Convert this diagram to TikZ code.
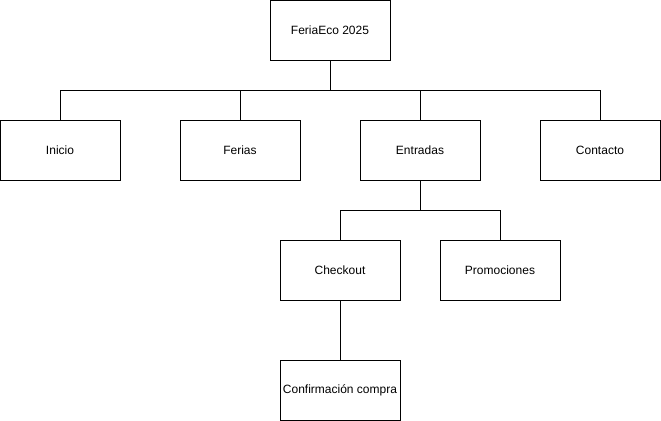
\documentclass[tikz,border=0pt]{standalone}
\usepackage{fontspec}
\setmainfont{Liberation Sans}
\usetikzlibrary{positioning}

\begin{document}
\begin{tikzpicture}[
        x=0.75pt, y=-0.75pt,
        font=\fontsize{9}{11}\selectfont,
        pagebox/.style={rectangle, draw=black, line width=0.75pt, fill=white, minimum width=90pt, minimum height=45pt, inner sep=1pt, align=center},
        link/.style={draw=black, line width=0.75pt}
        ]
        \useasboundingbox (0,0) rectangle (661,421);

        \node[pagebox] (root) at (330,30) {FeriaEco 2025};

        \node[pagebox] (inicio) at (60,150) {Inicio};
        \node[pagebox] (ferias) at (240,150) {Ferias};
        \node[pagebox] (entradas) at (420,150) {Entradas};
        \node[pagebox] (contacto) at (600,150) {Contacto};

        \node[pagebox] (checkout) at (340,270) {Checkout};
        \node[pagebox] (promos) at (500,270) {Promociones};

        \node[pagebox] (confirm) at (340,390) {Confirmación compra};

        % bus points for the tree branches
        \coordinate (bus1) at (330,90);
        \coordinate (bus2) at (420,210);

        \draw[link] (root.south) -- (bus1) -| (inicio.north);
        \draw[link] (bus1) -| (ferias.north);
        \draw[link] (bus1) -| (entradas.north);
        \draw[link] (bus1) -| (contacto.north);

        \draw[link] (entradas.south) -- (bus2) -| (checkout.north);
        \draw[link] (bus2) -| (promos.north);

        \draw[link] (checkout.south) -- (confirm.north);
\end{tikzpicture}
\end{document}
